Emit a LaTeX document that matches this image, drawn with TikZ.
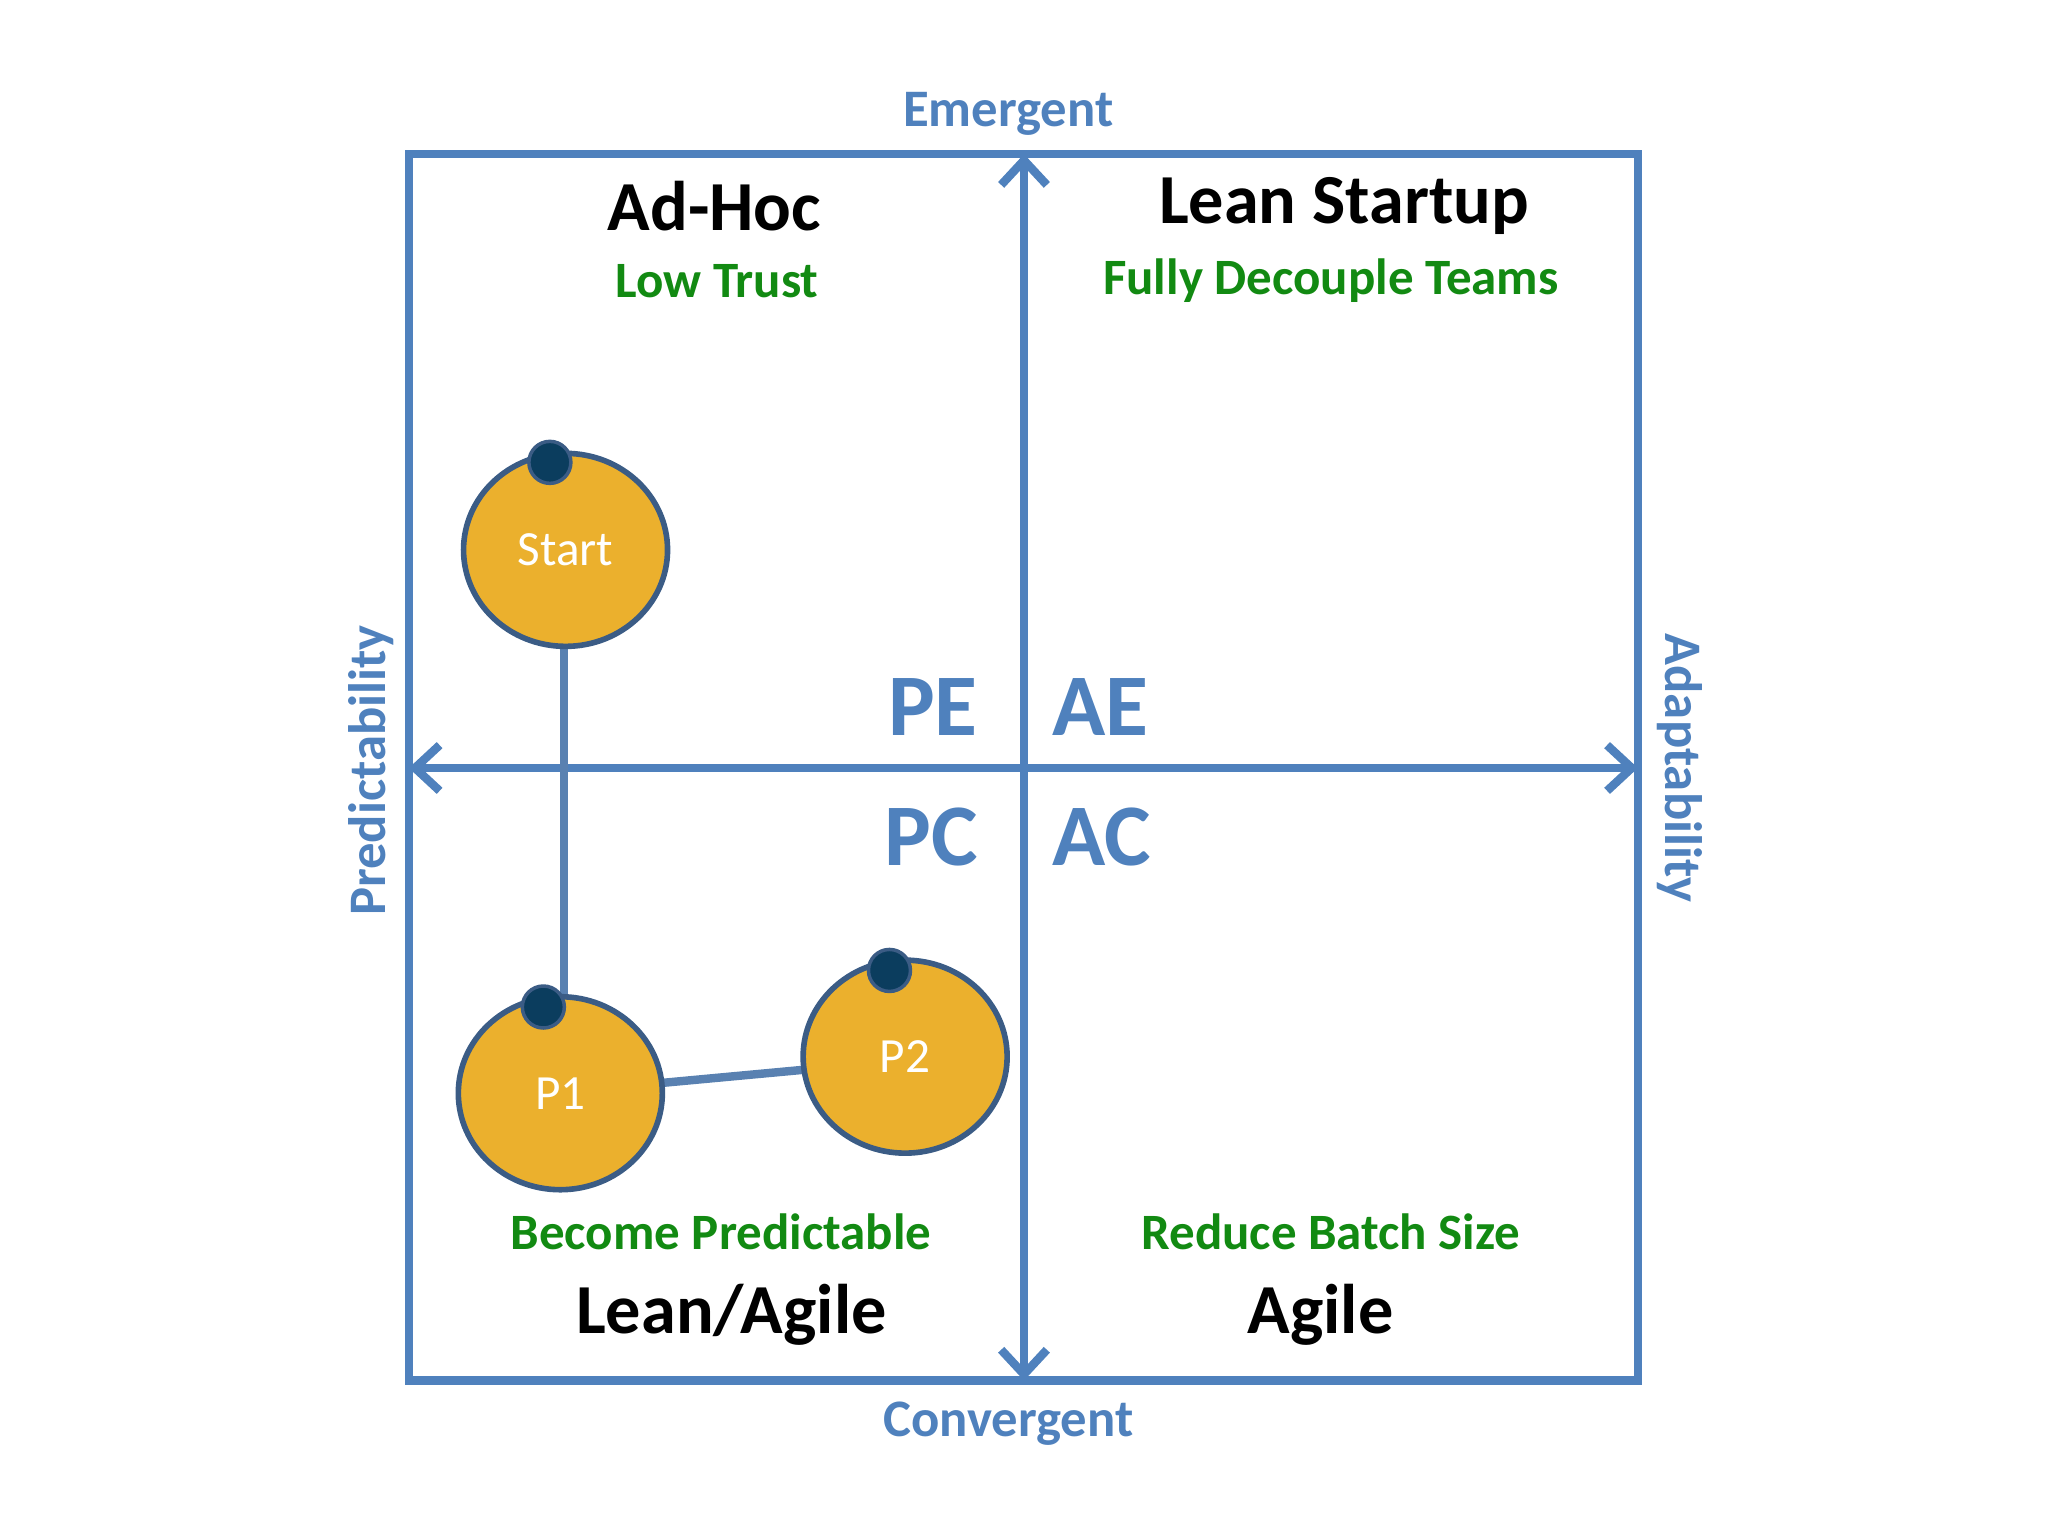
\documentclass[tikz,border=0pt]{standalone}
\usepackage{fontspec}
\setmainfont{Carlito}
\usetikzlibrary{arrows.meta,shapes.geometric}
\definecolor{ax}{HTML}{4F81BD}
\definecolor{gr}{HTML}{128A12}
\definecolor{orng}{HTML}{EBB02D}
\definecolor{dotc}{HTML}{0B3D5E}
\definecolor{rim}{HTML}{3B5C85}
\tikzset{
 axis/.style={draw=ax,line width=2.4pt,{Straight Barb[length=7pt,width=13pt]}-{Straight Barb[length=7pt,width=13pt]}},
 big/.style={font=\bfseries\fontsize{20}{24}\selectfont,text=black},
 sub/.style={font=\bfseries\fontsize{14.5}{18}\selectfont,text=gr},
 quad/.style={font=\bfseries\fontsize{25}{30}\selectfont,text=ax},
 axl/.style={font=\bfseries\fontsize{15}{18}\selectfont,text=ax},
 ball/.style={ellipse,draw=rim,line width=1.6pt,fill=orng,minimum width=2.04cm,minimum height=1.93cm,inner sep=0,text=white,font=\fontsize{14}{16}\selectfont},
 pin/.style={circle,draw=rim,line width=1pt,fill=dotc,minimum size=0.42cm,inner sep=0},
 link/.style={draw=ax!80!gray,line width=2.4pt}
}
\begin{document}
\begin{tikzpicture}[x=0.013061cm,y=-0.013061cm]
\useasboundingbox (0,0) rectangle (1568,1176);
\draw[ax,line width=2.4pt] (313,118) rectangle (1254,1057);
\coordinate (T) at (784,118); \coordinate (B) at (784,1057);
\coordinate (L) at (313,588); \coordinate (R) at (1254,588);
\draw[axis] (B) -- (T);
\draw[axis] (L) -- (R);
\node[axl] (em) at (772,87) {Emergent};
\node[axl] (cv) at (772,1090) {Convergent};
\node[axl,rotate=90] (pr) at (284,590) {Predictability};
\node[axl,rotate=-90] (ad) at (1286,588) {Adaptability};
\node[big] (ah) at (547,158) {Ad-Hoc};
\node[sub] (lt) at (549,215) {Low Trust};
\node[big] (ls) at (1029,158) {Lean Startup};
\node[sub] (fd) at (1019,215) {Fully Decouple Teams};
\node[sub] (bp) at (552,943) {Become Predictable};
\node[big] (la) at (560,1007) {Lean/Agile};
\node[sub] (rb) at (1019,943) {Reduce Batch Size};
\node[big] (ag) at (1011,1007) {Agile};
\node[quad,anchor=east] (pe) at (758,541) {PE};
\node[quad,anchor=west] (ae) at (796,541) {AE};
\node[quad,anchor=east] (pc) at (758,641) {PC};
\node[quad,anchor=west] (ac) at (796,641) {AC};
\coordinate (s1) at (432,495); \coordinate (s2) at (432,762);
\coordinate (q1) at (508,829); \coordinate (q2) at (616,819);
\draw[link] (s1) -- (s2);
\draw[link] (q1) -- (q2);
\node[ball] (s) at (433,421) {Start};
\node[ball] (p1) at (429,837) {P1};
\node[ball] (p2) at (693,809) {P2};
\node[pin] (d0) at (421,354) {};
\node[pin] (d1) at (416,771) {};
\node[pin] (d2) at (681,743) {};
\end{tikzpicture}
\end{document}
